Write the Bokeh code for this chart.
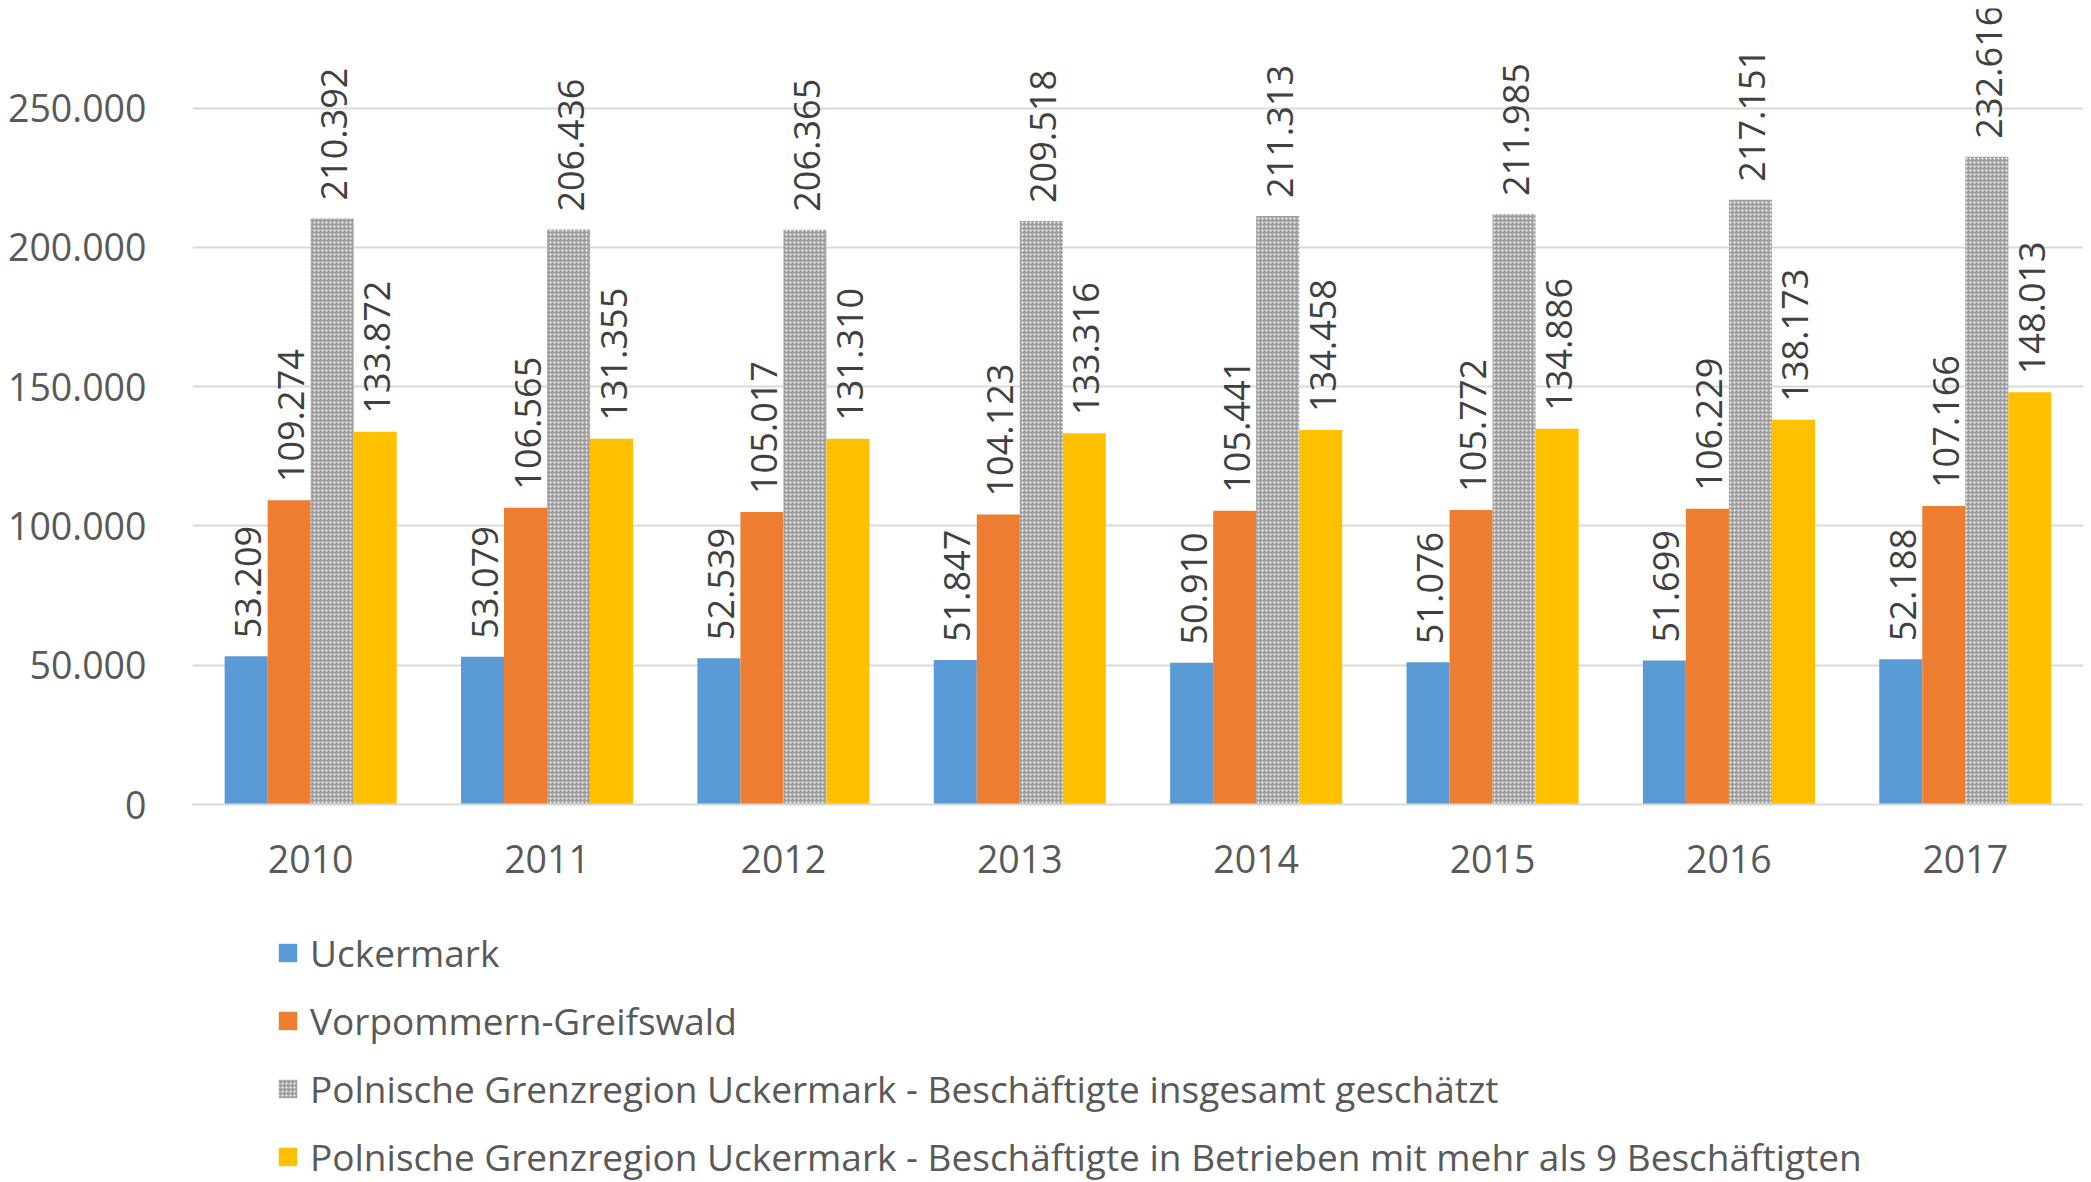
import math
from bokeh.plotting import figure
from bokeh.layouts import column
from bokeh.core.properties import value
from bokeh.models import (ColumnDataSource, FactorRange, Range1d, FixedTicker,
                          LabelSet, Legend, LegendItem)
from bokeh.transform import dodge
from bokeh.embed import file_html
from bokeh.resources import INLINE

years = ["2010", "2011", "2012", "2013", "2014", "2015", "2016", "2017"]
uckermark = [53209, 53079, 52539, 51847, 50910, 51076, 51699, 52188]
vorpommern = [109274, 106565, 105017, 104123, 105441, 105772, 106229, 107166]
pl_total = [210392, 206436, 206365, 209518, 211313, 211985, 217151, 232616]
pl_over9 = [133872, 131355, 131310, 133316, 134458, 134886, 138173, 148013]

series_names = [
    "Uckermark",
    "Vorpommern-Greifswald",
    "Polnische Grenzregion Uckermark - Beschäftigte insgesamt geschätzt",
    "Polnische Grenzregion Uckermark - Beschäftigte in Betrieben mit mehr als 9 Beschäftigten",
]
y_ticks = [0, 50000, 100000, 150000, 200000, 250000]
y_tick_labels = ["0", "50.000", "100.000", "150.000", "200.000", "250.000"]

FONT = "Open Sans"
AXIS_COLOR = "#595959"
LABEL_COLOR = "#404040"
colors = ["#5B9BD5", "#ED7D31", "#A0A0A0", "#FFC000"]
HATCH = dict(hatch_pattern="dot", hatch_color="white", hatch_scale=4, hatch_weight=2)


def de(v):
    return f"{v:,}".replace(",", ".")


src = ColumnDataSource(dict(
    years=years,
    u=uckermark, v=vorpommern, t=pl_total, n=pl_over9,
    u_l=[de(x) for x in uckermark], v_l=[de(x) for x in vorpommern],
    t_l=[de(x) for x in pl_total], n_l=[de(x) for x in pl_over9],
))

W = 2083
H_MAIN = 900
H_LEG = 282

p = figure(x_range=FactorRange(*years, range_padding=0),
           y_range=Range1d(0, 285800),
           width=W, height=H_MAIN, output_backend="svg", toolbar_location=None,
           min_border_left=192, min_border_right=0, min_border_top=8,
           min_border_bottom=H_MAIN - 804)
p.outline_line_color = None

bw = 0.182
offs = [-0.273, -0.091, 0.091, 0.273]
cols = ["u", "v", "t", "n"]
for i, (c, col) in enumerate(zip(cols, colors)):
    kw = dict(x=dodge("years", offs[i], range=p.x_range), top=c, width=bw,
              source=src, fill_color=col, line_color=None)
    if c == "t":
        kw.update(HATCH)
    p.vbar(**kw)
    labels = LabelSet(x=dodge("years", offs[i], range=p.x_range), y=c,
                      text=c + "_l", source=src, angle=math.pi / 2,
                      text_align="left", text_baseline="middle",
                      y_offset=18, x_offset=2,
                      text_font=value(FONT), text_font_size=value("36px"),
                      text_color=LABEL_COLOR)
    p.add_layout(labels)

p.yaxis.ticker = FixedTicker(ticks=y_ticks)
p.yaxis.major_label_overrides = {t: l for t, l in zip(y_ticks, y_tick_labels)}
p.yaxis.axis_line_color = None
p.yaxis.major_tick_line_color = None
p.yaxis.minor_tick_line_color = None
p.yaxis.major_label_text_font = FONT
p.yaxis.major_label_text_font_size = "37.5px"
p.yaxis.major_label_text_color = AXIS_COLOR
p.yaxis.major_label_standoff = 40

p.xaxis.axis_line_color = "#D9D9D9"
p.xaxis.axis_line_width = 2
p.xaxis.major_tick_line_color = None
p.xaxis.minor_tick_line_color = None
p.xaxis.major_label_text_font = FONT
p.xaxis.major_label_text_font_size = "37.5px"
p.xaxis.major_label_text_color = AXIS_COLOR
p.xaxis.major_label_standoff = 34

p.xgrid.grid_line_color = None
p.ygrid.ticker = FixedTicker(ticks=y_ticks)
p.ygrid.grid_line_color = "#D9D9D9"
p.ygrid.grid_line_width = 2

# legend figure (legend proxies: zero-size bars)
pl = figure(width=W, height=H_LEG, output_backend="svg", toolbar_location=None,
            x_range=Range1d(0, 1), y_range=Range1d(0, 1),
            x_axis_type=None, y_axis_type=None,
            min_border_left=0, min_border_right=0, min_border_top=0,
            min_border_bottom=0)
pl.outline_line_color = None
pl.grid.visible = False
leg_renderers = []
for i, col in enumerate(colors):
    kw = dict(x=[0.5], top=[0], bottom=[0], width=0, fill_color=col, line_color=None)
    if i == 2:
        kw.update(HATCH)
    leg_renderers.append(pl.vbar(**kw))

legend = Legend(
    items=[LegendItem(label=n, renderers=[r]) for n, r in zip(series_names, leg_renderers)],
    location=(84, 0), orientation="vertical",
    label_text_font=FONT, label_text_font_size="37px", label_text_color=AXIS_COLOR,
    glyph_width=23, glyph_height=23, label_standoff=11, label_height=40,
    spacing=17, padding=0, margin=0, border_line_color=None,
    background_fill_alpha=0,
)
pl.add_layout(legend)

layout = column(p, pl, spacing=0)
open("out.html", "w").write(file_html(layout, INLINE))
